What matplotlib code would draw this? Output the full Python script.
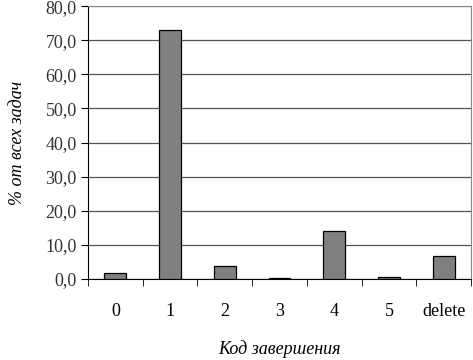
import matplotlib.pyplot as plt
from matplotlib.ticker import FuncFormatter, FixedLocator

codes = ['0', '1', '2', '3', '4', '5', 'delete']
share = [1.7, 73.0, 3.8, 0.4, 14.1, 0.5, 6.7]

plt.rcParams['font.family'] = ['Liberation Serif', 'DejaVu Serif']

fig = plt.figure(figsize=(4.73, 3.6), dpi=100)
ax = fig.add_axes([0.186, 0.225, 0.81, 0.758])

x = list(range(len(codes)))
ax.bar(x, share, width=0.4, color='#808080', edgecolor='black', linewidth=0.9, zorder=3)

ax.set_xlim(-0.5, len(codes) - 0.5)
ax.set_ylim(0, 80)
ax.set_yticks(range(0, 81, 10))
ax.yaxis.set_major_formatter(FuncFormatter(lambda v, p: f'{v:.1f}'.replace('.', ',')))
ax.grid(axis='y', color='#555555', linewidth=0.9, zorder=0)

ax.set_xticks(x)
ax.set_xticklabels(codes)
ax.xaxis.set_minor_locator(FixedLocator([i - 0.5 for i in range(len(codes) + 1)]))
ax.tick_params(axis='x', which='major', length=0, pad=17, labelsize=13)
ax.tick_params(axis='x', which='minor', length=5, direction='out')
ax.tick_params(axis='y', length=5, direction='out', labelsize=13, pad=3, labelcolor='#333333')

for s in ['top', 'right']:
    ax.spines[s].set_color('#888888')
for s in ['left', 'bottom']:
    ax.spines[s].set_color('black')

ax.set_ylabel('% от всех задач', fontsize=13, style='italic', labelpad=14)
ax.set_xlabel('Код завершения', fontsize=13, style='italic', labelpad=15)

fig.savefig('out.png', dpi=100)
